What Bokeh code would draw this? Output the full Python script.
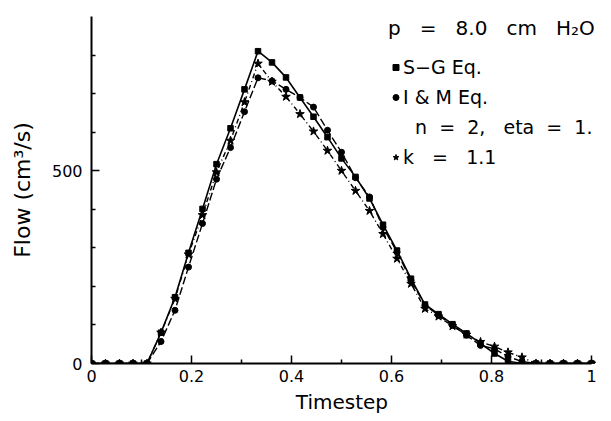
from bokeh.plotting import figure
from bokeh.models import (Range1d, FixedTicker, Legend, LegendItem,
                          ColumnDataSource)
from bokeh.embed import file_html
from bokeh.resources import INLINE

# ---- data ----
timestep = [0.000, 0.028, 0.056, 0.083, 0.111, 0.139, 0.167, 0.194, 0.222,
            0.250, 0.278, 0.306, 0.333, 0.361, 0.389, 0.417, 0.444, 0.472,
            0.500, 0.528, 0.556, 0.583, 0.611, 0.639, 0.667, 0.694, 0.722,
            0.750, 0.778, 0.806, 0.833, 0.861, 0.889, 0.917, 0.944, 0.972,
            1.000]
flow_sg = [0, 0, 0, 0, 0, 80, 172, 287, 401, 517, 610, 711, 810, 781, 742,
           690, 640, 587, 532, 484, 428, 360, 293, 220, 153, 128, 102, 78, 52,
           26, 6, 0, 0, 0, 0, 0, 0]
flow_im = [0, 0, 0, 0, 0, 57, 138, 250, 363, 478, 560, 653, 741, 733, 711,
           690, 665, 605, 548, 482, 432, 353, 289, 216, 151, 125, 99, 73, 47,
           38, 18, 5, 0, 0, 0, 0, 0]
flow_k = [0, 0, 0, 0, 0, 80, 168, 283, 385, 496, 578, 678, 778, 731, 692,
          647, 602, 552, 500, 448, 396, 336, 272, 207, 142, 122, 97, 75, 56,
          44, 29, 16, 0, 0, 0, 0, 0]

x_ticks = [0, 0.2, 0.4, 0.6, 0.8, 1]
x_tick_labels = ["0", "0.2", "0.4", "0.6", "0.8", "1"]
x_minor = [0.1, 0.3, 0.5, 0.7, 0.9]
y_ticks = [0, 500]
y_minor = [100, 200, 300, 400, 600, 700, 800]

title_text = "p   =   8.0   cm   H\u2082O"
series_labels = ["S\u2212G Eq.", "I & M Eq.", "  n  =  2,   eta  =  1.",
                 "k   =   1.1"]
x_title = "Timestep" + "\u00a0" * 3
y_title = "Flow (cm\u00b3/s)"

FONT = "DejaVu Sans"

p = figure(width=611, height=421, output_backend="svg", toolbar_location=None,
           x_range=Range1d(0, 1.04), y_range=Range1d(0, 900),
           min_border_left=91, min_border_right=0, min_border_top=16,
           min_border_bottom=58)
p.outline_line_color = None
p.grid.visible = False
p.background_fill_color = "white"
p.border_fill_color = "white"

xa = p.xaxis[0]
ya = p.yaxis[0]
xa.ticker = FixedTicker(ticks=x_ticks, minor_ticks=x_minor)
xa.major_label_overrides = {t: l for t, l in zip(x_ticks, x_tick_labels)}
ya.ticker = FixedTicker(ticks=y_ticks, minor_ticks=y_minor)
xa.bounds = (0, 1)
ya.bounds = (0, 900)

for ax in (xa, ya):
    ax.axis_line_color = "black"
    ax.axis_line_width = 2
    ax.major_tick_line_color = "black"
    ax.minor_tick_line_color = "black"
    ax.major_tick_line_width = 1.5
    ax.minor_tick_line_width = 1.5
    ax.major_tick_in = 8
    ax.major_tick_out = 0
    ax.minor_tick_in = 4
    ax.minor_tick_out = 0
    ax.major_label_text_font = FONT
    ax.major_label_text_font_size = "16px"
    ax.major_label_text_color = "black"
    ax.axis_label_text_font = FONT
    ax.axis_label_text_font_style = "normal"
    ax.axis_label_text_color = "black"

xa.major_label_standoff = 6
ya.major_label_standoff = 9
xa.axis_label = x_title
xa.axis_label_text_font_size = "20px"
xa.axis_label_standoff = 5
ya.axis_label = y_title
ya.axis_label_text_font_size = "22px"
ya.axis_label_standoff = 14

src = ColumnDataSource(dict(t=timestep, sg=flow_sg, im=flow_im, k=flow_k))

p.line("t", "sg", source=src, line_color="black", line_width=1.6)
p.line("t", "im", source=src, line_color="black", line_width=1.4,
       line_dash="8 3")
p.line("t", "k", source=src, line_color="black", line_width=1.4,
       line_dash="5 3 1 3")
r_sg = p.scatter("t", "sg", source=src, marker="square", size=5.5,
                 color="black")
r_im = p.scatter("t", "im", source=src, marker="circle", size=6,
                 color="black")
r_k = p.scatter("t", "k", source=src, marker="star", size=9, color="black")
r_note = p.scatter(x=[], y=[], marker="circle", size=1, fill_alpha=0,
                   line_alpha=0)

legend = Legend(
    items=[LegendItem(label=series_labels[0], renderers=[r_sg]),
           LegendItem(label=series_labels[1], renderers=[r_im]),
           LegendItem(label=series_labels[2], renderers=[r_note]),
           LegendItem(label=series_labels[3], renderers=[r_k])],
    location="top_right", title=title_text,
    title_text_font=FONT, title_text_font_size="20px",
    title_text_font_style="normal", title_text_color="black",
    title_standoff=16,
    label_text_font=FONT, label_text_font_size="19px",
    label_text_color="black",
    glyph_width=15, glyph_height=20, label_height=20, label_standoff=0,
    label_width=208, spacing=8, padding=5, margin=0,
    border_line_color=None, background_fill_alpha=0)
p.add_layout(legend)

open("out.html", "w").write(file_html(p, INLINE))
